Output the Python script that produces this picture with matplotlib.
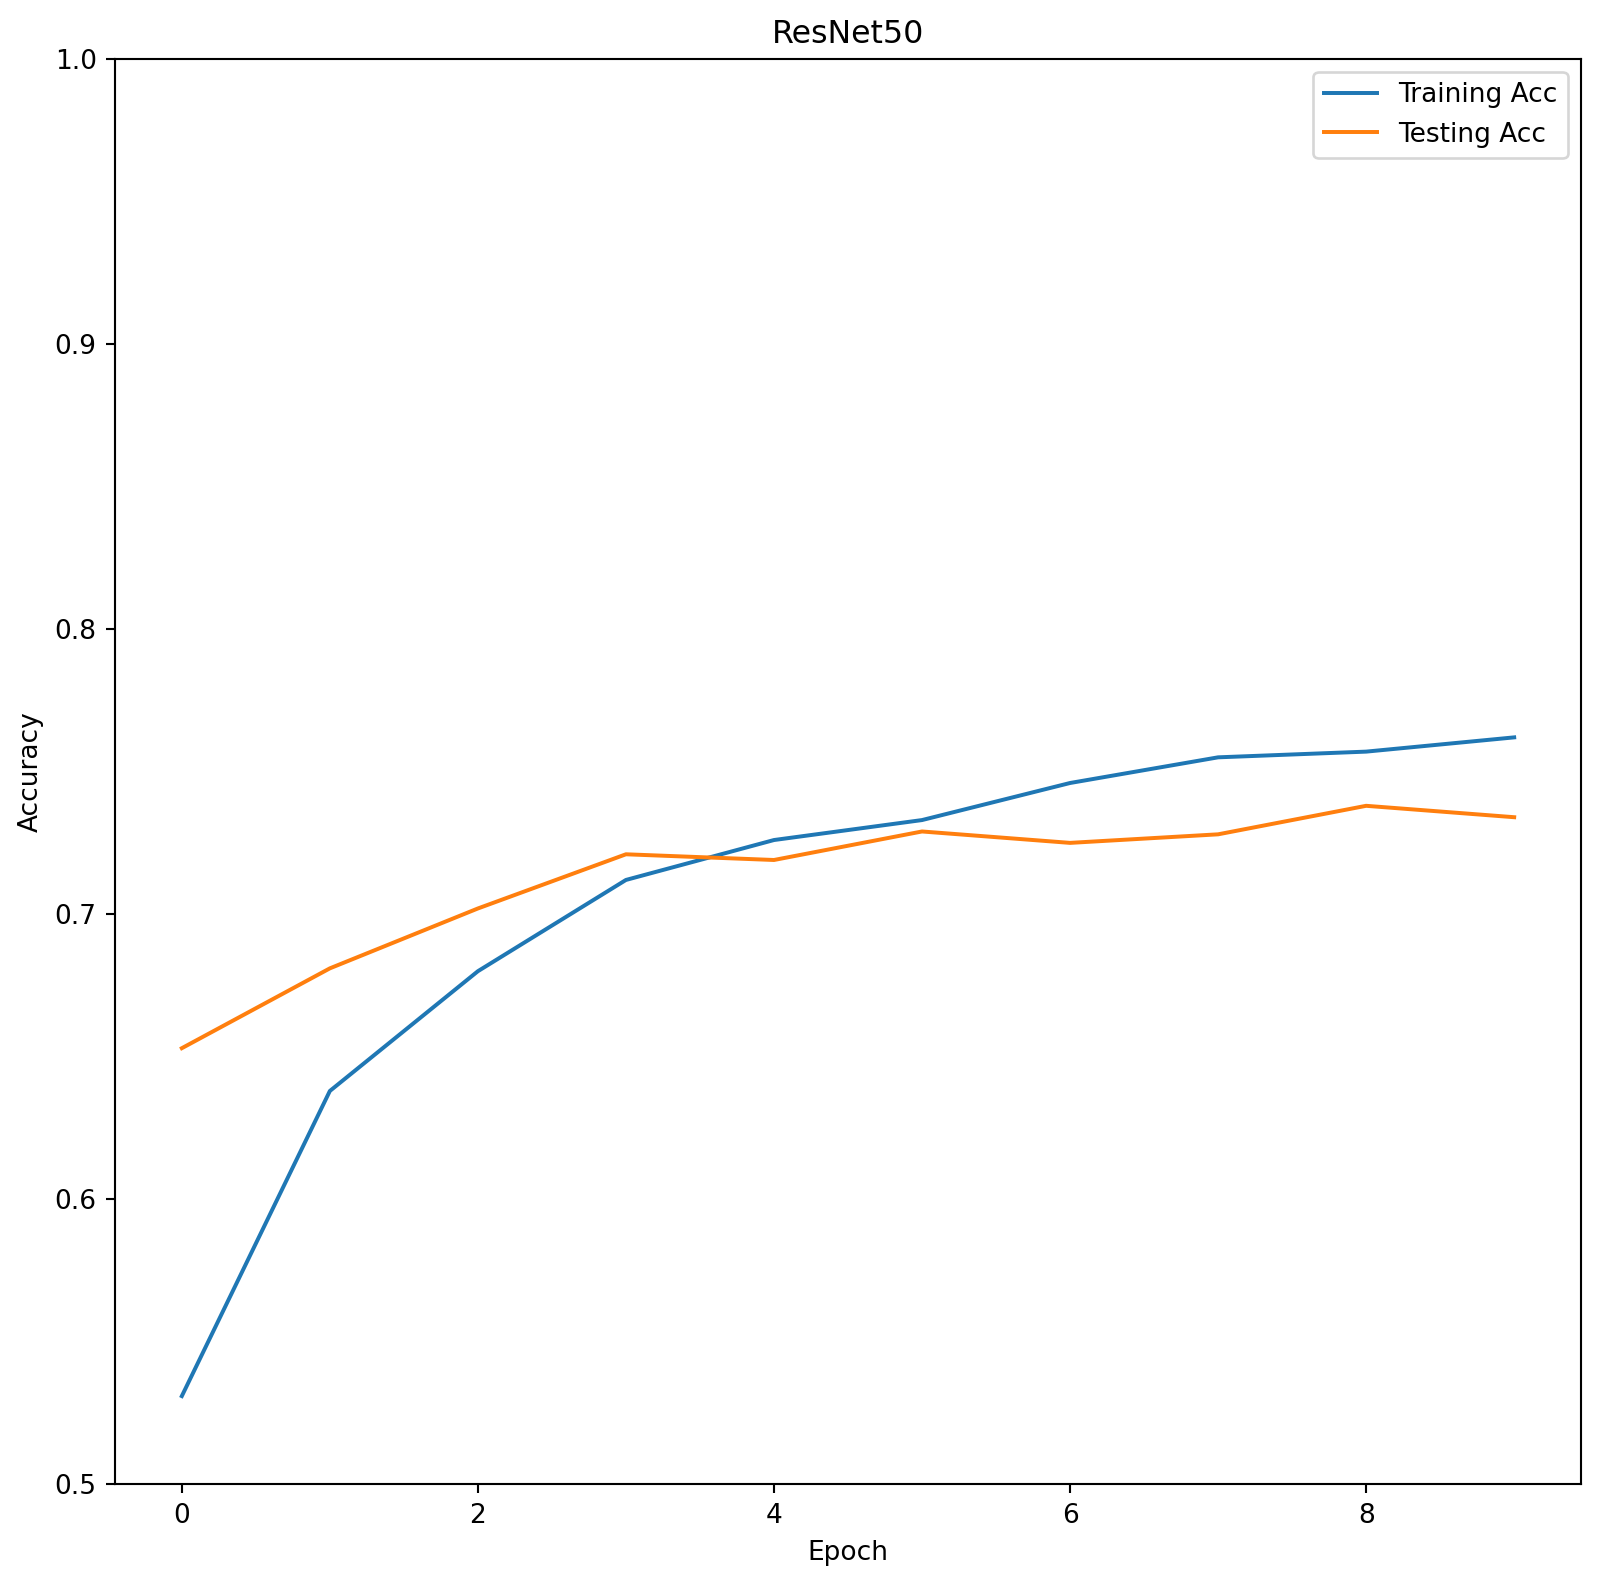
import matplotlib
matplotlib.use("Agg")
import matplotlib.pyplot as plt

epochs = list(range(10))
train_acc = [0.531, 0.638, 0.680, 0.712, 0.726, 0.733, 0.746, 0.755, 0.757, 0.762]
test_acc = [0.653, 0.681, 0.702, 0.721, 0.719, 0.729, 0.725, 0.728, 0.738, 0.734]

plt.figure(figsize=(1600 / 190, 1586 / 190))

plt.plot(epochs, train_acc, label='Training Acc')
plt.plot(epochs, test_acc, label='Testing Acc')

plt.title('ResNet50')
plt.xlabel('Epoch')
plt.ylabel('Accuracy')
plt.ylim(0.5, 1.0)
plt.yticks([0.5, 0.6, 0.7, 0.8, 0.9, 1.0])
plt.legend(loc='upper right')

plt.subplots_adjust(left=0.072, right=0.988, top=0.963, bottom=0.064)
plt.savefig('out.png', dpi=190)
